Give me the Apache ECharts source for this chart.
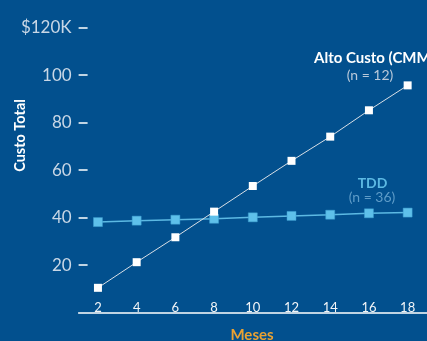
<!DOCTYPE html>
<html><head><meta charset="utf-8">
<script src="https://cdn.jsdelivr.net/npm/echarts@6/dist/echarts.min.js"></script>
<style>html,body{margin:0;padding:0;background:#02508e;}#c{width:427px;height:341px;}</style>
</head><body><div id="c"></div>
<script>
const months = [2, 4, 6, 8, 10, 12, 14, 16, 18];
const altoCusto = [10.4, 21.2, 31.7, 42.5, 53.3, 63.9, 74.1, 85.2, 95.7];
const tdd = [38.1, 38.7, 39.1, 39.5, 40.1, 40.7, 41.2, 41.8, 42.1];
const yTicks = [20, 40, 60, 80, 100, 120];
const altoName = 'Alto Custo (CMM)';
const altoN = '(n = 12)';
const tddName = 'TDD';
const tddN = '(n = 36)';
const yTitle = 'Custo Total';
const xTitle = 'Meses';

const chart = echarts.init(document.getElementById('c'), null, {renderer: 'canvas'});
const font = 'Lato, "Noto Sans", sans-serif';
chart.setOption({
  backgroundColor: '#02508e',
  animation: false,
  grid: {left: 78.6, right: -6.2, top: 27.7, bottom: 28.5},
  xAxis: {
    type: 'value', min: 1, max: 19,
    offset: 3.5,
    splitLine: {show: false},
    axisLine: {show: true, lineStyle: {color: '#ffffff', width: 1.5}},
    axisTick: {show: false},
    axisLabel: {
      customValues: months,
      inside: true, margin: 2,
      color: '#f2f5f8', fontSize: 13, fontFamily: font
    }
  },
  yAxis: {
    type: 'value', min: 0, max: 120, interval: 20,
    splitLine: {show: false},
    axisLine: {show: false},
    axisTick: {show: true, inside: true, length: 9, lineStyle: {color: '#ffffff', width: 1.5},
      customValues: yTicks},
    axisLabel: {
      customValues: yTicks,
      margin: 7, color: '#c9d7e6', fontSize: 17, fontFamily: font,
      formatter: v => v === 120 ? '$120K' : String(v)
    }
  },
  series: [
    {
      type: 'line', name: tddName,
      data: months.map((m, i) => [m, tdd[i]]),
      symbol: 'rect', symbolSize: 9,
      lineStyle: {color: '#5cb9e3', width: 1.5},
      itemStyle: {color: '#5ec0ea', borderColor: '#3f9fd0', borderWidth: 0.5},
      z: 2
    },
    {
      type: 'line', name: altoName,
      data: months.map((m, i) => [m, altoCusto[i]]),
      symbol: 'rect', symbolSize: 8,
      lineStyle: {color: '#d8dfe6', width: 1},
      itemStyle: {color: '#ffffff'},
      z: 3
    }
  ],
  graphic: [
    {type: 'text', left: 314, top: 51, style: {text: altoName, fill: '#ffffff', font: 'bold 15px ' + font}},
    {type: 'text', x: 370, y: 75, style: {text: altoN, fill: '#b9c9da', font: '14px ' + font, align: 'center', verticalAlign: 'middle'}},
    {type: 'text', x: 372.5, y: 183, style: {text: tddName, fill: '#5cb9e3', font: 'bold 14px ' + font, align: 'center', verticalAlign: 'middle'}},
    {type: 'text', x: 372, y: 197.5, style: {text: tddN, fill: '#5e9cc8', font: '14px ' + font, align: 'center', verticalAlign: 'middle'}},
    {type: 'text', x: 20, y: 135.5, rotation: Math.PI / 2, style: {text: yTitle, fill: '#ffffff', font: 'bold 14.5px ' + font, align: 'center', verticalAlign: 'middle'}},
    {type: 'text', x: 252, y: 335, style: {text: xTitle, fill: '#eaa232', font: 'bold 15px ' + font, align: 'center', verticalAlign: 'middle'}}
  ]
});
</script></body></html>
